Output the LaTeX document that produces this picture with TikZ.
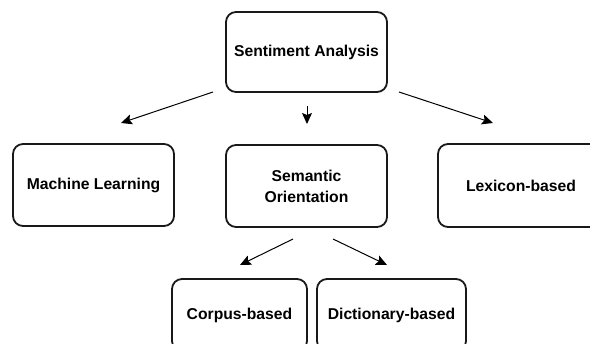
\documentclass[tikz,border=0pt]{standalone}
\usepackage{fontspec}
\setmainfont{Liberation Sans}
\usetikzlibrary{arrows.meta}
\tikzset{
  box/.style={draw=black!90, line width=1.8pt, rounded corners=10pt, fill=white,
    align=center, font=\fontsize{15.7}{21}\selectfont\bfseries, inner sep=0pt},
  conn/.style={line width=1pt, -{Stealth[length=11pt,width=10pt,inset=2pt]}}
}
\begin{document}
\begin{tikzpicture}[x=1pt,y=-1pt]
\useasboundingbox (0,0) rectangle (590,344);
\clip (0,0) rectangle (590,344);
\node[box, minimum width=161pt, minimum height=80pt] (sa) at (306.5,52) {Sentiment Analysis};
\node[box, minimum width=161pt, minimum height=82pt] (ml) at (93.5,185) {Machine Learning};
\node[box, minimum width=161pt, minimum height=82pt] (so) at (306.5,186) {Semantic\\Orientation};
\node[box, minimum width=166pt, minimum height=83pt] (lb) at (521,185.5) {Lexicon-based};
\node[box, minimum width=135pt, minimum height=72pt] (cb) at (239.5,315) {Corpus-based};
\node[box, minimum width=149pt, minimum height=72pt] (db) at (391.5,315) {Dictionary-based};
\coordinate (a1s) at (213,92);  \coordinate (a1e) at (121,123);
\coordinate (a2s) at (307,106); \coordinate (a2e) at (307,124);
\coordinate (a3s) at (399,92);  \coordinate (a3e) at (493,123);
\coordinate (b1s) at (293,239); \coordinate (b1e) at (240,265);
\coordinate (b2s) at (333,239); \coordinate (b2e) at (387,265);
\draw[conn] (a1s) -- (a1e);
\draw[conn] (a2s) -- (a2e);
\draw[conn] (a3s) -- (a3e);
\draw[conn] (b1s) -- (b1e);
\draw[conn] (b2s) -- (b2e);
\end{tikzpicture}
\end{document}
